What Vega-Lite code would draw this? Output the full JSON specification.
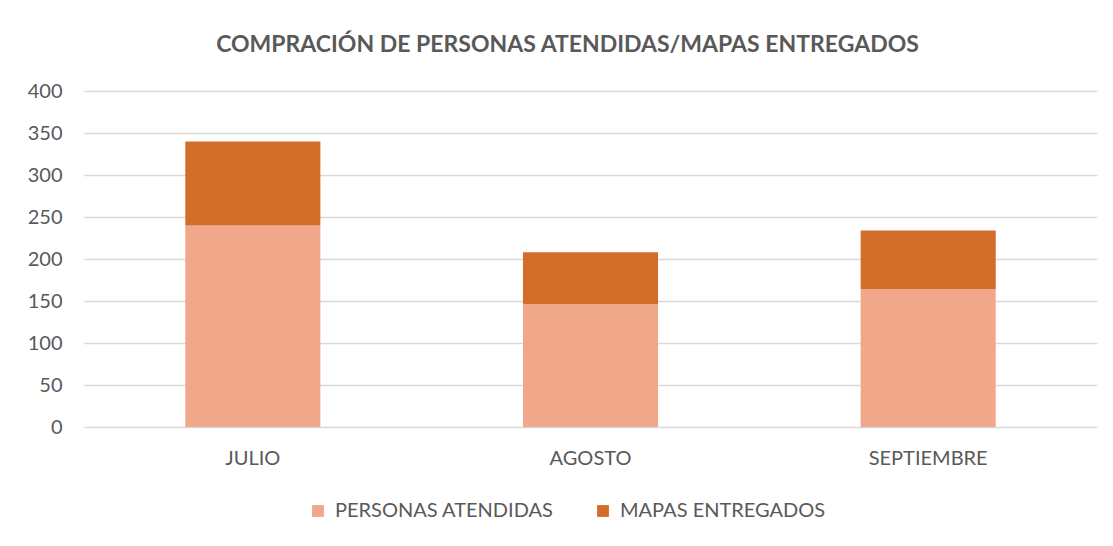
{
  "$schema": "https://vega.github.io/schema/vega-lite/v6.json",
  "width": 1013,
  "height": 336,
  "autosize": {"type": "none"},
  "padding": {"left": 84, "top": 91, "right": 16, "bottom": 119},
  "background": "white",
  "title": {
    "text": "COMPRACIÓN DE PERSONAS ATENDIDAS/MAPAS ENTREGADOS",
    "font": "Lato",
    "fontSize": 23,
    "fontWeight": "bold",
    "color": "#595959",
    "anchor": "middle",
    "dx": -23,
    "offset": 24
  },
  "config": {
    "view": {"stroke": null},
    "font": "Lato"
  },
  "data": {
    "values": [
      {"mes": "JULIO", "serie": "PERSONAS ATENDIDAS", "valor": 240},
      {"mes": "JULIO", "serie": "MAPAS ENTREGADOS", "valor": 100},
      {"mes": "AGOSTO", "serie": "PERSONAS ATENDIDAS", "valor": 146},
      {"mes": "AGOSTO", "serie": "MAPAS ENTREGADOS", "valor": 62},
      {"mes": "SEPTIEMBRE", "serie": "PERSONAS ATENDIDAS", "valor": 164},
      {"mes": "SEPTIEMBRE", "serie": "MAPAS ENTREGADOS", "valor": 70}
    ]
  },
  "mark": {"type": "bar"},
  "encoding": {
    "x": {
      "field": "mes",
      "type": "nominal",
      "sort": ["JULIO", "AGOSTO", "SEPTIEMBRE"],
      "scale": {"paddingInner": 0.6, "paddingOuter": 0.3},
      "axis": {
        "title": null,
        "labelAngle": 0,
        "labelFontSize": 20,
        "labelColor": "#595959",
        "labelPadding": 21,
        "ticks": false,
        "domain": false,
        "grid": false
      }
    },
    "y": {
      "field": "valor",
      "type": "quantitative",
      "aggregate": "sum",
      "stack": "zero",
      "scale": {"domain": [0, 400]},
      "axis": {
        "title": null,
        "values": [0, 50, 100, 150, 200, 250, 300, 350, 400],
        "labelFontSize": 20,
        "labelColor": "#595959",
        "labelPadding": 22,
        "ticks": false,
        "domain": false,
        "gridColor": "#d9d9d9",
        "gridWidth": 1.3
      }
    },
    "color": {
      "field": "serie",
      "type": "nominal",
      "scale": {
        "domain": ["PERSONAS ATENDIDAS", "MAPAS ENTREGADOS"],
        "range": ["#F1A78A", "#D26E2A"]
      },
      "legend": {
        "title": null,
        "orient": "none",
        "direction": "horizontal",
        "legendX": 224,
        "legendY": 410,
        "symbolType": "square",
        "symbolSize": 140,
        "symbolStrokeWidth": 0,
        "labelFontSize": 20,
        "labelColor": "#595959",
        "labelLimit": 0,
        "columnPadding": 39,
        "labelOffset": 7
      }
    }
  }
}
